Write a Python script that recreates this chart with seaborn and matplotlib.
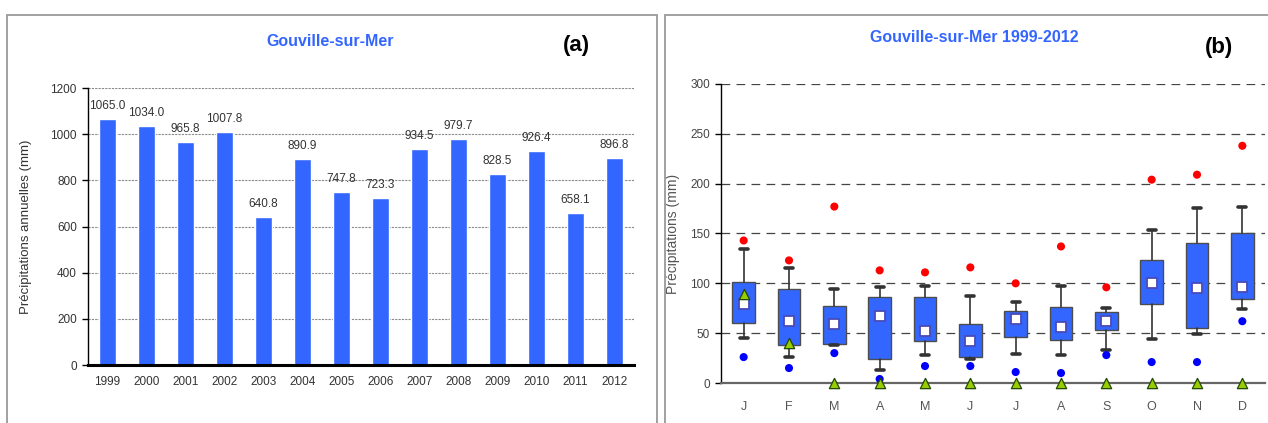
import seaborn as sns
import matplotlib.pyplot as plt
import pandas as pd
import numpy as np
from matplotlib.patches import Rectangle

# (a) annual totals
years = [str(y) for y in range(1999, 2013)]
annual_rain = [1065.0, 1034.0, 965.8, 1007.8, 640.8, 890.9, 747.8,
               723.3, 934.5, 979.7, 828.5, 926.4, 658.1, 896.8]

# (b) monthly statistics 1999-2012 (mm)
months = ["J", "F", "M", "A", "M", "J", "J", "A", "S", "O", "N", "D"]
rain_max = [143, 123, 177, 113, 111, 116, 100, 137, 96, 204, 209, 238]
whisk_hi = [134, 115, 94, 96, 97, 87, 81, 97, 75, 154, 176, 177]
q3 = [101, 94, 77, 86, 86, 59, 72, 76, 71, 123, 140, 151]
q1 = [60, 38, 39, 24, 42, 26, 46, 43, 53, 79, 55, 84]
whisk_lo = [45, 26, 38, 13, 28, 24, 29, 28, 33, 44, 49, 74]
rain_mean = [79, 62, 59, 67, 52, 42, 64, 56, 62, 100, 95, 96]
rain_min = [26, 15, 30, 4, 17, 17, 11, 10, 28, 21, 21, 62]
rain_other = [89, 40, 0, 0, 0, 0, 0, 0, 0, 0, 0, 0]

BLUE = "#3366FF"
TXT = "#333333"

sns.set_style("white")
plt.rcParams["font.family"] = ["Liberation Sans Narrow", "Liberation Sans", "DejaVu Sans"]

W, H = 1268, 423
fig = plt.figure(figsize=(W / 100, H / 100), dpi=100)

# panel frames
fig.add_artist(Rectangle((7 / W, -0.05), 650 / W, 1 - 15 / H + 0.05, transform=fig.transFigure,
                         fill=False, edgecolor="#9a9a9a", lw=1.3))
fig.add_artist(Rectangle((665 / W, -0.05), 1.0, 1 - 15 / H + 0.05, transform=fig.transFigure,
                         fill=False, edgecolor="#9a9a9a", lw=1.3))

# ---- (a) bar chart
ax1 = fig.add_axes([88 / W, 1 - 365 / H, 546 / W, 277 / H])
df = pd.DataFrame({"year": years, "rain": annual_rain})
sns.barplot(data=df, x="year", y="rain", color=BLUE, saturation=1, width=0.43, ax=ax1)
ax1.bar_label(ax1.containers[0], fmt="%.1f", padding=5, fontsize=8.5, color=TXT)
ax1.set_ylim(0, 1200)
ax1.set_xlim(-0.5, 13.5)
ax1.set_yticks(np.arange(0, 1201, 200))
ax1.set_xticks(np.arange(-0.5, 14, 1), minor=True)
ax1.yaxis.grid(True, linestyle=(0, (2, 1)), color="#8a8a8a", lw=0.8)
ax1.set_axisbelow(True)
ax1.tick_params(axis="x", which="major", length=0, pad=8, labelsize=8.5, labelcolor=TXT)
ax1.tick_params(axis="x", which="minor", length=4, width=1, color="black", direction="out")
ax1.tick_params(axis="y", length=4, width=1, color="black", pad=4, labelsize=8.5, labelcolor=TXT, left=True)
for s in ["top", "right"]:
    ax1.spines[s].set_visible(False)
ax1.spines["bottom"].set_linewidth(2.2)
ax1.spines["bottom"].set_color("black")
ax1.spines["left"].set_color("black")
ax1.spines["left"].set_linewidth(1)
ax1.set_xlabel("")
ax1.set_ylabel("Précipitations annuelles (mm)", fontsize=9.5, color=TXT)
ax1.yaxis.set_label_coords(-0.103, 0.5)
fig.text(330 / W, 1 - 41 / H, "Gouville-sur-Mer", color=BLUE, fontsize=11.5, fontweight="bold",
         ha="center", va="center")
fig.text(576 / W, 1 - 46 / H, "(a)", color="black", fontsize=16, fontweight="bold",
         ha="center", va="center")

# ---- (b) monthly box chart
ax2 = fig.add_axes([721 / W, 1 - 383 / H, 544 / W, 299 / H])
pos = np.arange(len(months))
stats = [dict(med=m, mean=m, q1=a, q3=b, whislo=lo, whishi=hi, fliers=[])
         for m, a, b, lo, hi in zip(rain_mean, q1, q3, whisk_lo, whisk_hi)]
ax2.bxp(stats, positions=pos, widths=0.5, capwidths=0.18, patch_artist=True, showmeans=True,
        showfliers=False,
        boxprops=dict(facecolor=BLUE, edgecolor="#4d4d4d", lw=1),
        whiskerprops=dict(color="#333333", lw=1.2),
        capprops=dict(color="#333333", lw=2.6),
        medianprops=dict(lw=0),
        meanprops=dict(marker="s", markerfacecolor="white", markeredgecolor="#4a4ab8",
                       markersize=7.5, markeredgewidth=1.3),
        zorder=3)
pts = pd.DataFrame({"pos": pos, "max": rain_max, "min": rain_min, "other": rain_other})
sns.scatterplot(data=pts, x="pos", y="max", color="red", s=34, edgecolor="none", ax=ax2, zorder=4)
sns.scatterplot(data=pts, x="pos", y="min", color="#0000FF", s=34, edgecolor="none", ax=ax2, zorder=4)
sns.scatterplot(data=pts, x="pos", y="other", marker="^", color="#99CC00", s=55,
                edgecolor="#1f4a00", linewidth=0.9, ax=ax2, zorder=5, clip_on=False)
ax2.set_ylim(0, 300)
ax2.set_xlim(-0.5, 11.5)
ax2.set_yticks(np.arange(0, 301, 50))
ax2.set_xticks(pos)
ax2.set_xticklabels(months)
ax2.set_xticks(np.arange(-0.5, 12, 1), minor=True)
ax2.yaxis.grid(True, linestyle=(0, (7, 5)), color="#444444", lw=0.9)
ax2.xaxis.grid(False)
ax2.set_axisbelow(True)
ax2.tick_params(axis="x", which="major", length=0, pad=13, labelsize=9, labelcolor="#555555")
ax2.tick_params(axis="x", which="minor", length=4, width=1, color="#555555", direction="out")
ax2.tick_params(axis="y", length=4, width=1, color="black", pad=4, labelsize=8.5, labelcolor="#444444", left=True)
for s in ["top", "right"]:
    ax2.spines[s].set_visible(False)
ax2.spines["bottom"].set_color("#666666")
ax2.spines["bottom"].set_linewidth(1.6)
ax2.spines["left"].set_color("black")
ax2.spines["left"].set_linewidth(1)
ax2.set_xlabel("")
ax2.set_ylabel("Précipitations (mm)", fontsize=10, color="#555555")
ax2.yaxis.set_label_coords(-0.075, 0.5)
fig.text(974 / W, 1 - 38 / H, "Gouville-sur-Mer 1999-2012", color=BLUE, fontsize=11.5,
         fontweight="bold", ha="center", va="center")
fig.text(1219 / W, 1 - 47 / H, "(b)", color="black", fontsize=16, fontweight="bold",
         ha="center", va="center")

fig.savefig("out.png", dpi=100)
